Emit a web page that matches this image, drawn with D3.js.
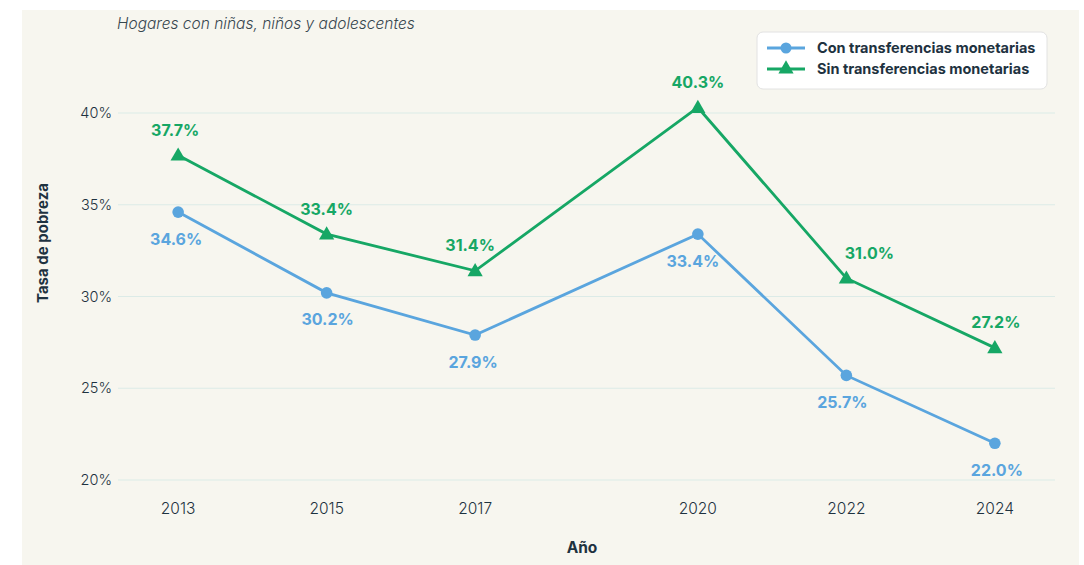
<!DOCTYPE html>
<html>
<head>
<meta charset="utf-8">
<script src="https://cdn.jsdelivr.net/npm/d3@7"></script>
<style>
  html, body { margin: 0; padding: 0; background: #fff; }
  svg { display: block; font-family: "Inter", "Noto Sans", sans-serif; }
</style>
</head>
<body>
<div id="chart"></div>
<script>
// data
const years = [2013, 2015, 2017, 2020, 2022, 2024];
const conTransfer = [34.6, 30.2, 27.9, 33.4, 25.7, 22.0];
const sinTransfer = [37.7, 33.4, 31.4, 40.3, 31.0, 27.2];
const yTicks = [20, 25, 30, 35, 40];
const seriesNames = ["Con transferencias monetarias", "Sin transferencias monetarias"];

const width = 1084, height = 565;
const blue = "#5aa5de", green = "#16a765", ink = "#1e3240";

const svg = d3.select("#chart").append("svg")
  .attr("width", width)
  .attr("height", height);

// panel background
svg.append("rect")
  .attr("x", 22).attr("y", 10)
  .attr("width", 1057).attr("height", 555)
  .attr("fill", "#f7f6ef");

const x = d3.scaleLinear()
  .domain([2012.19, 2024.81])
  .range([118, 1055]);

const y = d3.scaleLinear()
  .domain([20, 40])
  .range([480, 113]);

// gridlines
svg.append("g")
  .selectAll("line")
  .data(yTicks)
  .enter().append("line")
  .attr("x1", x.range()[0]).attr("x2", x.range()[1])
  .attr("y1", d => y(d)).attr("y2", d => y(d))
  .attr("stroke", "#dcebe7")
  .attr("stroke-width", 1.2);

// y tick labels
svg.append("g")
  .selectAll("text")
  .data(yTicks)
  .enter().append("text")
  .attr("x", 112)
  .attr("y", d => y(d))
  .attr("dy", "0.35em")
  .attr("text-anchor", "end")
  .attr("font-size", 14.5)
  .attr("font-weight", 300)
  .attr("fill", ink)
  .text(d => d + "%");

// x tick labels
svg.append("g")
  .selectAll("text")
  .data(years)
  .enter().append("text")
  .attr("x", d => x(d))
  .attr("y", 509)
  .attr("dy", "0.35em")
  .attr("text-anchor", "middle")
  .attr("font-size", 15.5)
  .attr("font-weight", 300)
  .attr("fill", ink)
  .text(d => d);

// axis titles
svg.append("text")
  .attr("x", 582).attr("y", 548)
  .attr("dy", "0.35em")
  .attr("text-anchor", "middle")
  .attr("font-size", 15.5)
  .attr("font-weight", 700)
  .attr("fill", ink)
  .text("Año");

svg.append("text")
  .attr("transform", "translate(43,243) rotate(-90)")
  .attr("dy", "0.35em")
  .attr("text-anchor", "middle")
  .attr("font-size", 15)
  .attr("font-weight", 700)
  .attr("fill", ink)
  .text("Tasa de pobreza");

// subtitle
svg.append("text")
  .attr("x", 117).attr("y", 24)
  .attr("dy", "0.35em")
  .attr("font-size", 15.5)
  .attr("font-style", "italic")
  .attr("font-weight", 300)
  .attr("fill", "#37474f")
  .text("Hogares con niñas, niños y adolescentes");

const line = d3.line()
  .x(d => x(d.year))
  .y(d => y(d.value));

const conData = years.map((yr, i) => ({ year: yr, value: conTransfer[i] }));
const sinData = years.map((yr, i) => ({ year: yr, value: sinTransfer[i] }));

const tri = d3.symbol().type(d3.symbolTriangle).size(100);

// blue line (con)
svg.append("path")
  .datum(conData)
  .attr("d", line)
  .attr("fill", "none")
  .attr("stroke", blue)
  .attr("stroke-width", 2.8);

svg.append("g").selectAll("circle")
  .data(conData)
  .enter().append("circle")
  .attr("cx", d => x(d.year))
  .attr("cy", d => y(d.value))
  .attr("r", 5.8)
  .attr("fill", blue);

// green line (sin)
svg.append("path")
  .datum(sinData)
  .attr("d", line)
  .attr("fill", "none")
  .attr("stroke", green)
  .attr("stroke-width", 2.8);

svg.append("g").selectAll("path")
  .data(sinData)
  .enter().append("path")
  .attr("d", tri)
  .attr("transform", d => `translate(${x(d.year)},${y(d.value) + 1})`)
  .attr("fill", green);

// value labels
const greenNudge = [-3, 0, -5, 0, 23, 1];
const blueNudge = [-2, 1, -2, -5, -4, 2];

svg.append("g").selectAll("text")
  .data(sinData)
  .enter().append("text")
  .attr("x", (d, i) => x(d.year) + greenNudge[i])
  .attr("y", d => y(d.value) - 25)
  .attr("dy", "0.35em")
  .attr("text-anchor", "middle")
  .attr("font-size", 16)
  .attr("font-weight", 700)
  .attr("fill", green)
  .text(d => d.value.toFixed(1) + "%");

svg.append("g").selectAll("text")
  .data(conData)
  .enter().append("text")
  .attr("x", (d, i) => x(d.year) + blueNudge[i])
  .attr("y", d => y(d.value) + 27)
  .attr("dy", "0.35em")
  .attr("text-anchor", "middle")
  .attr("font-size", 16)
  .attr("font-weight", 700)
  .attr("fill", blue)
  .text(d => d.value.toFixed(1) + "%");

// legend
const legend = svg.append("g").attr("transform", "translate(757,32)");
legend.append("rect")
  .attr("width", 290).attr("height", 57)
  .attr("rx", 6)
  .attr("fill", "#fff")
  .attr("stroke", "#e2e2e2");

const items = legend.selectAll(".legend-item")
  .data(seriesNames)
  .enter().append("g")
  .attr("class", "legend-item")
  .attr("transform", (d, i) => `translate(10,${16 + i * 21})`);

items.append("line")
  .attr("x1", 0).attr("x2", 38)
  .attr("stroke", (d, i) => i === 0 ? blue : green)
  .attr("stroke-width", 2.8);

items.filter((d, i) => i === 0).append("circle")
  .attr("cx", 19).attr("r", 5.5).attr("fill", blue);

items.filter((d, i) => i === 1).append("path")
  .attr("d", tri)
  .attr("transform", "translate(19,0)")
  .attr("fill", green);

items.append("text")
  .attr("x", 50)
  .attr("dy", "0.35em")
  .attr("font-size", 14.5)
  .attr("font-weight", 700)
  .attr("fill", ink)
  .text(d => d);
</script>
</body>
</html>
